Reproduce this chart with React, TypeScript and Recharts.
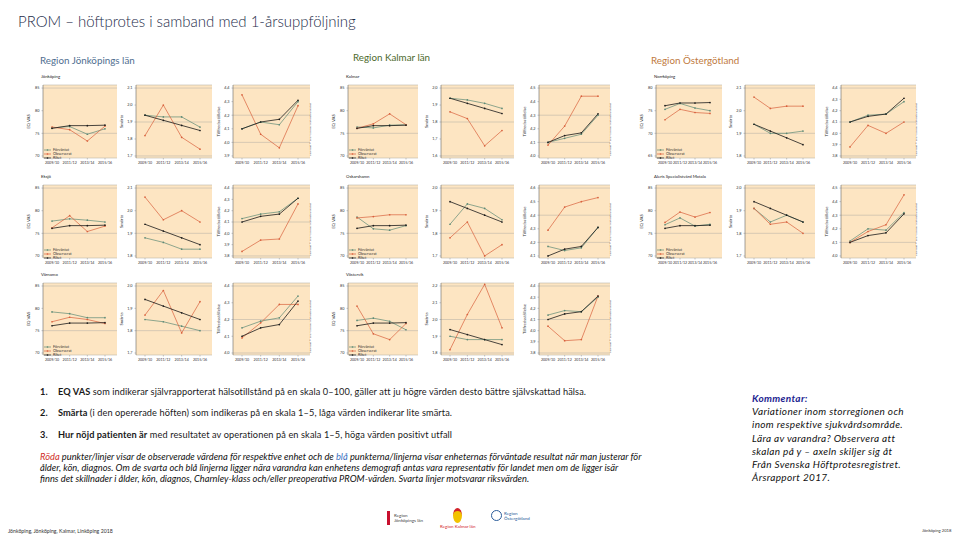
import React from "react";
import { LineChart, Line, XAxis, YAxis, CartesianGrid, Legend } from "recharts";

// ---------- DATA ----------
const years = ["2009/10", "2011/12", "2013/14", "2015/16"];
const seriesNames = ["Förväntat", "Observerat", "Riket"];

const riketEq = [76.1, 76.7, 76.7, 76.8];
const riketSm = [1.94, 1.91, 1.88, 1.85];
const riketTf = [4.1, 4.15, 4.17, 4.31];

const jkpEqExp = [76.2, 76.5, 74.8, 76.0];
const jkpEqObs = [76.4, 75.8, 73.3, 76.6];
const jkpSmExp = [1.94, 1.93, 1.93, 1.87];
const jkpSmObs = [1.82, 2.0, 1.81, 1.74];
const jkpTfExp = [4.1, 4.15, 4.13, 4.3];
const jkpTfObs = [4.35, 4.06, 3.96, 4.27];

const eksEqExp = [77.7, 78.2, 77.9, 77.5];
const eksEqObs = [76.2, 78.9, 75.4, 76.6];
const eksSmExp = [1.88, 1.86, 1.83, 1.83];
const eksSmObs = [2.06, 1.96, 2.0, 1.95];
const eksTfExp = [4.13, 4.17, 4.19, 4.31];
const eksTfObs = [3.84, 3.94, 3.95, 4.26];

const varEqExp = [79.2, 78.8, 77.9, 77.9];
const varEqObs = [77.0, 78.0, 77.5, 76.6];
const varSmExp = [1.85, 1.84, 1.82, 1.8];
const varSmObs = [1.87, 1.98, 1.79, 1.93];
const varTfExp = [4.15, 4.19, 4.21, 4.34];
const varTfObs = [4.09, 4.18, 4.29, 4.29];

const kalEqExp = [76.4, 76.2, 76.8, 76.9];
const kalEqObs = [76.1, 77.1, 79.3, 76.9];
const kalSmExp = [1.94, 1.93, 1.91, 1.88];
const kalSmObs = [1.86, 1.82, 1.66, 1.75];
const kalTfExp = [4.1, 4.13, 4.16, 4.3];
const kalTfObs = [4.08, 4.22, 4.44, 4.44];

const oskEqExp = [78.6, 76.0, 75.7, 76.7];
const oskEqObs = [78.4, 78.7, 79.1, 79.1];
const oskSmExp = [1.84, 1.93, 1.91, 1.86];
const oskSmObs = [1.78, 1.85, 1.7, 1.75];
const oskTfExp = [4.17, 4.14, 4.16, 4.31];
const oskTfObs = [4.29, 4.46, 4.5, 4.53];

const vvkEqExp = [77.3, 77.8, 77.1, 75.2];
const vvkEqObs = [80.5, 74.3, 73.0, 76.6];
const vvkSmExp = [1.9, 1.88, 1.88, 1.88];
const vvkSmObs = [1.82, 2.03, 2.21, 1.95];
const vvkTfExp = [4.14, 4.18, 4.17, 4.3];
const vvkTfObs = [4.04, 3.91, 3.92, 4.31];

const nkpEqExp = [75.3, 76.6, 75.6, 75.0];
const nkpEqObs = [73.0, 75.3, 74.6, 74.4];
const nkpSmExp = [1.94, 1.9, 1.9, 1.91];
const nkpSmObs = [2.06, 2.01, 2.02, 2.02];
const nkpTfExp = [4.1, 4.16, 4.17, 4.28];
const nkpTfObs = [3.88, 4.07, 4.0, 4.1];

const motEqExp = [76.9, 78.4, 76.6, 77.0];
const motEqObs = [77.4, 79.7, 78.6, 79.6];
const motSmExp = [1.91, 1.85, 1.88, 1.85];
const motSmObs = [1.91, 1.84, 1.85, 1.8];
const motTfExp = [4.11, 4.2, 4.19, 4.32];
const motTfObs = [4.1, 4.18, 4.23, 4.45];

// tick label sets
const eqTicks = [70, 75, 80, 85];
const eqTicksNkp = [65, 70, 75, 80];
const smTicksJkp = [1.7, 1.8, 1.9, 2.0, 2.1];
const smTicks18to21 = [1.8, 1.9, 2.0, 2.1];
const smTicks17to20 = [1.7, 1.8, 1.9, 2.0];
const smTicksKal = [1.6, 1.7, 1.8, 1.9, 2.0];
const smTicksVvk = [1.8, 1.9, 2.0, 2.1, 2.2];
const tfTicksJkp = [3.9, 4.0, 4.1, 4.2, 4.3, 4.4];
const tfTicks38 = [3.8, 3.9, 4.0, 4.1, 4.2, 4.3, 4.4];
const tfTicks40to44 = [4.0, 4.1, 4.2, 4.3, 4.4];
const tfTicks40to45 = [4.0, 4.1, 4.2, 4.3, 4.4, 4.5];
const tfTicksOsk = [4.1, 4.2, 4.3, 4.4, 4.5, 4.6];

const hospitals = [
  { name: "Jönköping", col: 0, row: 0, eq: [jkpEqExp, jkpEqObs, eqTicks], sm: [jkpSmExp, jkpSmObs, smTicksJkp], tf: [jkpTfExp, jkpTfObs, tfTicksJkp] },
  { name: "Eksjö", col: 0, row: 1, eq: [eksEqExp, eksEqObs, eqTicks], sm: [eksSmExp, eksSmObs, smTicks18to21], tf: [eksTfExp, eksTfObs, tfTicks38] },
  { name: "Värnamo", col: 0, row: 2, eq: [varEqExp, varEqObs, eqTicks], sm: [varSmExp, varSmObs, smTicks17to20], tf: [varTfExp, varTfObs, tfTicks40to44] },
  { name: "Kalmar", col: 1, row: 0, eq: [kalEqExp, kalEqObs, eqTicks], sm: [kalSmExp, kalSmObs, smTicksKal], tf: [kalTfExp, kalTfObs, tfTicks40to45] },
  { name: "Oskarshamn", col: 1, row: 1, eq: [oskEqExp, oskEqObs, eqTicks], sm: [oskSmExp, oskSmObs, smTicks17to20], tf: [oskTfExp, oskTfObs, tfTicksOsk] },
  { name: "Västervik", col: 1, row: 2, eq: [vvkEqExp, vvkEqObs, eqTicks], sm: [vvkSmExp, vvkSmObs, smTicksVvk], tf: [vvkTfExp, vvkTfObs, tfTicks38] },
  { name: "Norrköping", col: 2, row: 0, eq: [nkpEqExp, nkpEqObs, eqTicksNkp], sm: [nkpSmExp, nkpSmObs, smTicks18to21], tf: [nkpTfExp, nkpTfObs, tfTicks38] },
  { name: "Aleris Specialistvård Motala", col: 2, row: 1, eq: [motEqExp, motEqObs, eqTicks], sm: [motSmExp, motSmObs, smTicks17to20], tf: [motTfExp, motTfObs, tfTicks40to45] },
];

// ---------- LAYOUT ----------
const colX = [
  [[43, 117], [136, 212], [233, 310]],
  [[348, 418], [441, 514], [539, 610]],
  [[656, 722], [745, 815], [841, 916]],
];
const rowY = [[85, 158], [185, 258], [283, 355]];

const COL_EXP = "#5d8a76";
const COL_OBS = "#d8603c";
const COL_RIK = "#1b1b1b";
const BG = "#fde5c2";

const YW = 20, MT = 2, MR = 1, XH = 9;

function fmt(dec: boolean) {
  return (v: number) => (dec ? v.toFixed(1).replace(".", ",") : String(v));
}

function LegendBox() {
  const cols = [COL_EXP, COL_OBS, COL_RIK];
  return (
    <svg width={34} height={13}>
      {seriesNames.map((n, i) => (
        <g key={n}>
          <line x1={0} x2={7} y1={2 + i * 4} y2={2 + i * 4} stroke={cols[i]} strokeWidth={0.7} />
          <circle cx={3.5} cy={2 + i * 4} r={0.8} fill={cols[i]} />
          <text x={9} y={3.4 + i * 4} fontSize={3.8} fill="#333">{n}</text>
        </g>
      ))}
    </svg>
  );
}

function Mini(props: any) {
  const { x0, x1, y0, y1, exp, obs, riket, ticks, label, dec, legend, copy } = props;
  const data = years.map((y, i) => ({ year: y, exp: exp[i], obs: obs[i], riket: riket[i] }));
  const lo = ticks[0], hi = ticks[ticks.length - 1];
  const r = hi - lo;
  const domain = [lo - r * 0.03, hi + r * 0.045];
  const w = x1 - x0 + YW + MR;
  const h = y1 - y0 + MT + XH;
  const dot = (c: string) => ({ r: 0.85, fill: c, stroke: "none" });
  return (
    <div style={{ position: "absolute", left: x0 - YW, top: y0 - MT, width: w, height: h }}>
      <LineChart width={w} height={h} data={data} margin={{ top: MT, right: MR, left: 0, bottom: 0 }}>
        <CartesianGrid vertical={false} fill={BG} fillOpacity={1} stroke="#bdb6aa" strokeWidth={0.6} />
        <XAxis
          dataKey="year"
          height={XH}
          interval={0}
          padding={{ left: 9, right: 12 }}
          tick={{ fontSize: 3.6, fill: "#333" }}
          tickSize={1.5}
          tickLine={{ stroke: "#777", strokeWidth: 0.4 }}
          axisLine={false}
        />
        <YAxis
          type="number"
          width={YW}
          domain={domain}
          ticks={ticks}
          allowDataOverflow
          tickFormatter={fmt(dec)}
          tick={{ fontSize: 3.8, fill: "#333" }}
          tickSize={1.5}
          tickLine={{ stroke: "#777", strokeWidth: 0.4 }}
          axisLine={{ stroke: "#666", strokeWidth: 0.6 }}
          label={{ value: label, angle: -90, position: "insideLeft", offset: 5, fontSize: 4.3, fill: "#333", style: { textAnchor: "middle" } }}
        />
        {legend && (
          <Legend
            layout="vertical"
            align="center"
            verticalAlign="middle"
            content={() => <LegendBox />}
            wrapperStyle={{ position: "absolute", left: YW + 1, top: h - XH - 13, width: 34, height: 13 }}
          />
        )}
        <Line dataKey="exp" name={seriesNames[0]} stroke={COL_EXP} strokeWidth={0.7} dot={dot(COL_EXP)} isAnimationActive={false} />
        <Line dataKey="obs" name={seriesNames[1]} stroke={COL_OBS} strokeWidth={0.7} dot={dot(COL_OBS)} isAnimationActive={false} />
        <Line dataKey="riket" name={seriesNames[2]} stroke={COL_RIK} strokeWidth={0.8} dot={dot(COL_RIK)} isAnimationActive={false} />
      </LineChart>
      {copy && (
        <div
          style={{
            position: "absolute",
            left: w - 3,
            top: h - XH - 2,
            transformOrigin: "0 0",
            transform: "rotate(-90deg)",
            fontSize: 2.6,
            whiteSpace: "nowrap",
            color: "#333",
            fontFamily: "Lato, sans-serif",
          }}
        >
          Copyright © 2017 Svenska Höftprotesregistret
        </div>
      )}
    </div>
  );
}

const abs = (left: number, top: number, extra: any = {}) => ({ position: "absolute" as const, left, top, whiteSpace: "nowrap" as const, lineHeight: 1, ...extra });
const listStyle = { fontSize: 9.2, letterSpacing: 0.1, color: "#1a1a1a" };

export default function App() {
  return (
    <div style={{ position: "fixed", left: 0, top: 0, width: 960, height: 540, background: "#fff", overflow: "hidden", fontFamily: "Lato, 'Noto Sans', sans-serif" }}>
      <div style={abs(18, 14, { fontSize: 15, fontWeight: 300, color: "#1d2b49" })}>PROM – höftprotes i samband med 1-årsuppföljning</div>
      <div style={abs(40, 56, { fontSize: 9.8, color: "#4f6e90" })}>Region Jönköpings län</div>
      <div style={abs(353, 53, { fontSize: 9.8, color: "#4d6a2d" })}>Region Kalmar län</div>
      <div style={abs(651, 56, { fontSize: 9.8, color: "#c07a3e" })}>Region Östergötland</div>

      {hospitals.map((hp) => {
        const cx = colX[hp.col];
        const [y0, y1] = rowY[hp.row];
        const parts = [
          { key: "eq", d: hp.eq, riket: riketEq, label: "EQ VAS", dec: false },
          { key: "sm", d: hp.sm, riket: riketSm, label: "Smärta", dec: true },
          { key: "tf", d: hp.tf, riket: riketTf, label: "Tillfredsställelse", dec: true },
        ];
        return (
          <React.Fragment key={hp.name}>
            <div style={abs(cx[0][0] - 2, y0 - 10, { fontSize: 4.3, color: "#222" })}>{hp.name}</div>
            {parts.map((p, i) => (
              <Mini
                key={p.key}
                x0={cx[i][0]}
                x1={cx[i][1]}
                y0={y0}
                y1={y1}
                exp={p.d[0]}
                obs={p.d[1]}
                ticks={p.d[2]}
                riket={p.riket}
                label={p.label}
                dec={p.dec}
                legend={i === 0}
                copy={i === 2}
              />
            ))}
          </React.Fragment>
        );
      })}

      <div style={abs(40, 387, listStyle)}>
        <b style={{ display: "inline-block", width: 18 }}>1.</b><b>EQ VAS</b> som indikerar självrapporterat hälsotillstånd på en skala 0–100, gäller att ju högre värden desto bättre självskattad hälsa.
      </div>
      <div style={abs(40, 408, listStyle)}>
        <b style={{ display: "inline-block", width: 18 }}>2.</b><b>Smärta</b> (i den opererade höften) som indikeras på en skala 1–5, låga värden indikerar lite smärta.
      </div>
      <div style={abs(40, 430, listStyle)}>
        <b style={{ display: "inline-block", width: 18 }}>3.</b><b>Hur nöjd patienten är</b> med resultatet av operationen på en skala 1–5, höga värden positivt utfall
      </div>
      <div style={abs(40, 451, { fontSize: 9.3, color: "#111", fontStyle: "italic", lineHeight: "11px" })}>
        <span style={{ color: "#d0302a" }}>Röda</span> punkter/linjer visar de observerade värdena för respektive enhet och de <span style={{ color: "#3a6fc0" }}>blå</span> punkterna/linjerna visar enheternas förväntade resultat när man justerar för
        <br />ålder, kön, diagnos. Om de svarta och blå linjerna ligger nära varandra kan enhetens demografi antas vara representativ för landet men om de ligger isär
        <br />finns det skillnader i ålder, kön, diagnos, Charnley-klass och/eller preoperativa PROM-värden. Svarta linjer motsvarar riksvärden.
      </div>

      <div style={abs(752, 392, { fontSize: 10, fontStyle: "italic", color: "#111", lineHeight: "13.2px", letterSpacing: 0.35 })}>
        <b style={{ color: "#1c2490" }}>Kommentar:</b>
        <br />Variationer inom storregionen och
        <br />inom respektive sjukvårdsområde.
        <br />Lära av varandra? Observera att
        <br />skalan på y – axeln skiljer sig åt
        <br />Från Svenska Höftprotesregistret.
        <br />Årsrapport 2017.
      </div>

      <div style={abs(8, 529, { fontSize: 5.2, color: "#333" })}>Jönköping, Jönköping, Kalmar, Linköping 2018</div>
      <div style={abs(922, 529, { fontSize: 4.2, color: "#333" })}>Jönköping 2018</div>

      {/* logos */}
      <div style={abs(387, 511, { width: 3, height: 14, background: "#c8102e" })} />
      <div style={abs(394, 513, { fontSize: 4.5, color: "#444", lineHeight: "5px" })}>Region<br />Jönköpings län</div>
      <div style={abs(453, 508, { width: 9, height: 12, borderRadius: "50%", background: "#f2c200", borderTop: "3px solid #d2232a" })} />
      <div style={abs(440, 525, { fontSize: 4.5, color: "#d2232a" })}>Region Kalmar län</div>
      <div style={abs(491, 510, { width: 9, height: 9, borderRadius: "50%", border: "1px solid #2a5c9a" })} />
      <div style={abs(504, 511, { fontSize: 4.5, color: "#2a5c9a", lineHeight: "5px" })}>Region<br />Östergötland</div>
    </div>
  );
}
